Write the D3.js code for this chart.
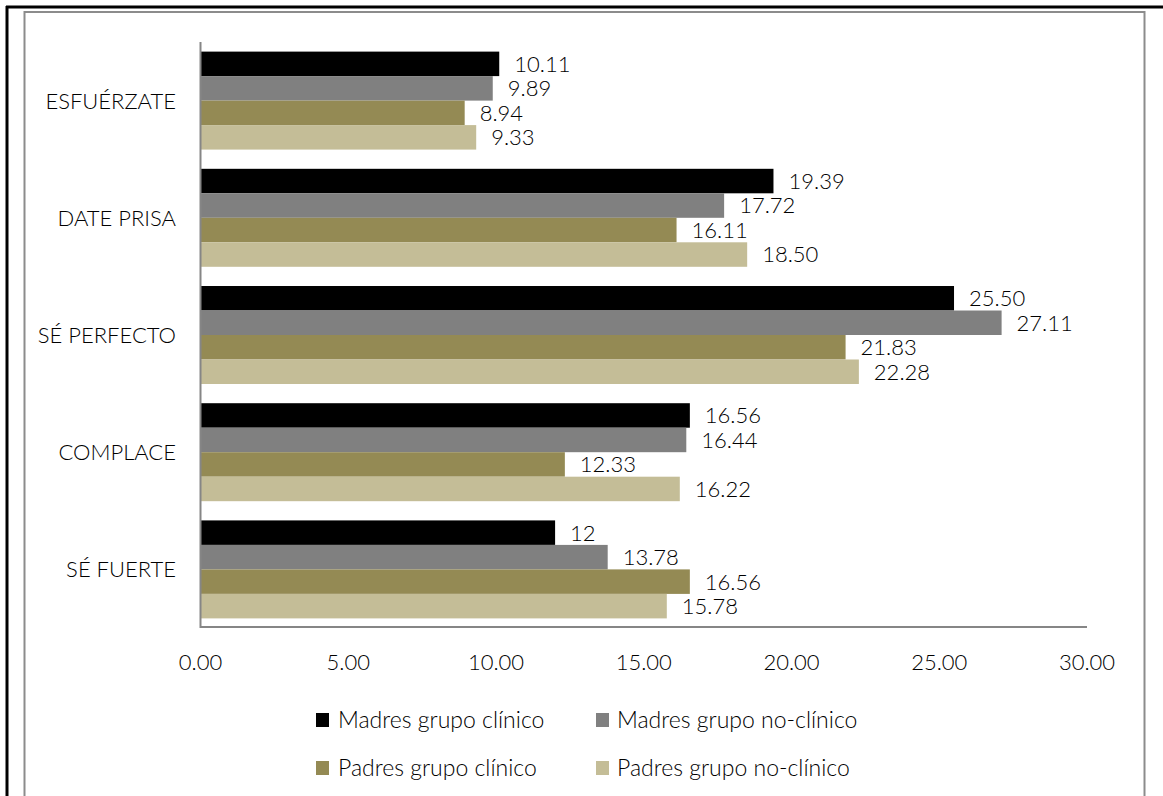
<!DOCTYPE html>
<meta charset="utf-8">
<html>
  <head>
    <style>
      body { margin: 0; background: #fff; }
      text { font-family: Lato, "Open Sans", sans-serif; font-weight: 300; fill: #000; }
      text.cat { font-size: 22px; }
      text.tick { font-size: 22px; }
      text.val { font-size: 22px; }
      text.leg { font-size: 23px; }
    </style>
    <script src="https://d3js.org/d3.v7.min.js"></script>
  </head>
  <body>
    <div id="chart"></div>
    <script>

      // data
      var categories = ["ESFUÉRZATE", "DATE PRISA", "SÉ PERFECTO", "COMPLACE", "SÉ FUERTE"];
      var series = ["Madres grupo clínico", "Madres grupo no-clínico", "Padres grupo clínico", "Padres grupo no-clínico"];
      var madresClinico   = [10.11, 19.39, 25.50, 16.56, 12];
      var madresNoClinico = [9.89, 17.72, 27.11, 16.44, 13.78];
      var padresClinico   = [8.94, 16.11, 21.83, 12.33, 16.56];
      var padresNoClinico = [9.33, 18.50, 22.28, 16.22, 15.78];
      var xTicks = [0, 5, 10, 15, 20, 25, 30];

      var values = [madresClinico, madresNoClinico, padresClinico, padresNoClinico];
      var colors = ["#000000", "#808080", "#948a54", "#c4bd97"];

      var width = 1163,
          height = 796;

      var svg = d3.select('#chart').append('svg')
          .attr('width', width)
          .attr('height', height);

      // frame
      svg.append("rect")
          .attr("x", 24.5).attr("y", 12)
          .attr("width", 1120).attr("height", 800)
          .attr("fill", "none")
          .attr("stroke", "#8c8c8c")
          .attr("stroke-width", 2);
      svg.append("line")
          .attr("x1", 6).attr("x2", width).attr("y1", 7).attr("y2", 7)
          .attr("stroke", "#000").attr("stroke-width", 3);
      svg.append("line")
          .attr("x1", 7).attr("x2", 7).attr("y1", 6).attr("y2", height)
          .attr("stroke", "#000").attr("stroke-width", 3);

      var x = d3.scaleLinear()
          .domain([0, 30])
          .range([200.5, 1087]);

      var y = d3.scaleBand()
          .domain(categories)
          .range([42, 628])
          .paddingInner(0.164)
          .paddingOuter(0.082);

      var yInner = d3.scaleBand()
          .domain(d3.range(series.length))
          .range([0, y.bandwidth()]);

      var fmt = function(v) { return Number.isInteger(v) ? String(v) : v.toFixed(2); };

      var rows = [];
      categories.forEach(function(c, i) {
        series.forEach(function(s, j) {
          rows.push({cat: c, s: j, v: values[j][i]});
        });
      });

      // bars
      svg.selectAll(".bar")
          .data(rows)
          .enter().append("rect")
          .attr("class", "bar")
          .attr("x", x(0))
          .attr("y", function(d) { return y(d.cat) + yInner(d.s); })
          .attr("width", function(d) { return x(d.v) - x(0); })
          .attr("height", yInner.bandwidth())
          .attr("fill", function(d) { return colors[d.s]; });

      // value labels
      svg.selectAll(".val")
          .data(rows)
          .enter().append("text")
          .attr("class", "val")
          .attr("x", function(d) { return x(d.v) + 15; })
          .attr("y", function(d) { return y(d.cat) + yInner(d.s) + yInner.bandwidth() / 2; })
          .attr("dy", "0.36em")
          .text(function(d) { return fmt(d.v); });

      // axes
      svg.append("line")
          .attr("x1", x(0)).attr("x2", x(0))
          .attr("y1", 42).attr("y2", 628)
          .attr("stroke", "#868686").attr("stroke-width", 2);
      svg.append("line")
          .attr("x1", x(0)).attr("x2", x(30))
          .attr("y1", 627).attr("y2", 627)
          .attr("stroke", "#868686").attr("stroke-width", 2);

      svg.selectAll(".tick")
          .data(xTicks)
          .enter().append("text")
          .attr("class", "tick")
          .attr("x", function(d) { return x(d); })
          .attr("y", 662)
          .attr("dy", "0.36em")
          .style("text-anchor", "middle")
          .text(function(d) { return d.toFixed(2); });

      svg.selectAll(".cat")
          .data(categories)
          .enter().append("text")
          .attr("class", "cat")
          .attr("x", 176)
          .attr("y", function(d) { return y(d) + y.bandwidth() / 2; })
          .attr("dy", "0.36em")
          .style("text-anchor", "end")
          .text(function(d) { return d; });

      // legend, 2 x 2
      var legX = [316, 596],
          legY = [720, 768];

      var leg = svg.selectAll(".legend")
          .data(series)
          .enter().append("g")
          .attr("class", "legend")
          .attr("transform", function(d, i) { return "translate(" + legX[i % 2] + "," + legY[Math.floor(i / 2)] + ")"; });

      leg.append("rect")
          .attr("x", 0).attr("y", -7)
          .attr("width", 13).attr("height", 14)
          .attr("fill", function(d, i) { return colors[i]; });

      leg.append("text")
          .attr("class", "leg")
          .attr("x", function(d, i) { return i % 2 ? 21 : 22; })
          .attr("dy", "0.36em")
          .text(function(d) { return d; });

    </script>
  </body>
</html>
